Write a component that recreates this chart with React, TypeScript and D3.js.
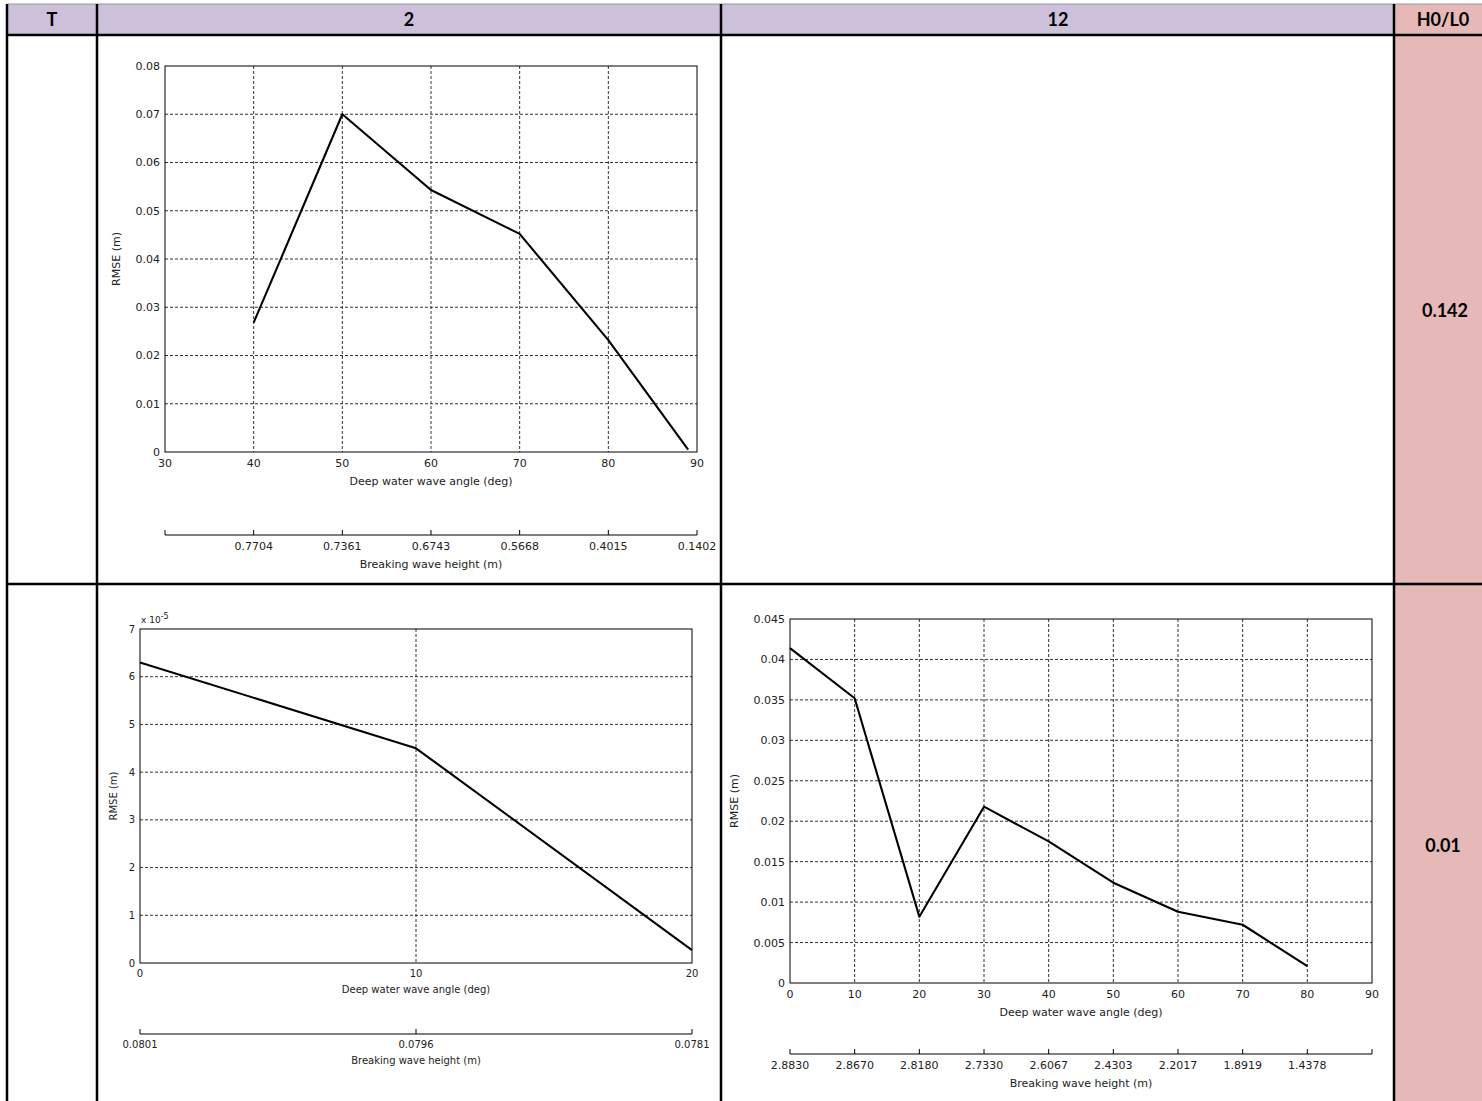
import React from "react";
import * as d3 from "d3";

// table texts
const headerLabels = ["T", "2", "12", "H0/L0"];
const steepnessLabels = ["0.142", "0.01"];

// H0/L0 = 0.142, T = 2
const anglesA = [40, 50, 60, 70, 80, 89];
const rmseA = [0.0268, 0.07, 0.0543, 0.0452, 0.0232, 0.0005];
const angleTicksA = [30, 40, 50, 60, 70, 80, 90];
const rmseTicksA = [0, 0.01, 0.02, 0.03, 0.04, 0.05, 0.06, 0.07, 0.08];
const heightLabelsA = ["", "0.7704", "0.7361", "0.6743", "0.5668", "0.4015", "0.1402"];

// H0/L0 = 0.01, T = 2  (rmse in units of 1e-5 m)
const anglesB = [0, 10, 20];
const rmseB = [6.3, 4.5, 0.27];
const angleTicksB = [0, 10, 20];
const rmseTicksB = [0, 1, 2, 3, 4, 5, 6, 7];
const heightLabelsB = ["0.0801", "0.0796", "0.0781"];

// H0/L0 = 0.01, T = 12
const anglesC = [0, 10, 20, 30, 40, 50, 60, 70, 80];
const rmseC = [0.0414, 0.0352, 0.0082, 0.0218, 0.0175, 0.0124, 0.0088, 0.0072, 0.0021];
const angleTicksC = [0, 10, 20, 30, 40, 50, 60, 70, 80, 90];
const rmseTicksC = [0, 0.005, 0.01, 0.015, 0.02, 0.025, 0.03, 0.035, 0.04, 0.045];
const heightLabelsC = ["2.8830", "2.8670", "2.8180", "2.7330", "2.6067", "2.4303", "2.2017", "1.8919", "1.4378", ""];

const lavender = "#CCC0DA";
const pink = "#E6B8B7";
const font = "DejaVu Sans, sans-serif";

type PlotProps = {
  x0: number; y0: number; w: number; h: number;
  xTicks: number[]; yTicks: number[];
  xs: number[]; ys: number[];
  heights: string[];
  fs: number; yLabelGap: number; secondGap: number;
  exponent?: boolean;
};

function RmsePlot(p: PlotProps) {
  const x = d3.scaleLinear().domain(d3.extent(p.xTicks) as [number, number]).range([p.x0, p.x0 + p.w]);
  const y = d3.scaleLinear().domain(d3.extent(p.yTicks) as [number, number]).range([p.y0 + p.h, p.y0]);
  const line = d3.line<number>().x((d, i) => x(p.xs[i])).y(d => y(d));
  const bottom = p.y0 + p.h;
  const axisY = bottom + p.secondGap;
  const grid = { stroke: "#333", strokeWidth: 1, strokeDasharray: "3 2" };
  const inner = (t: number[]) => t.slice(1, -1);
  return (
    <g fontFamily={font} fontSize={p.fs} fill="#222">
      {inner(p.xTicks).map(t => (
        <line key={"gx" + t} x1={x(t)} x2={x(t)} y1={p.y0} y2={bottom} {...grid} />
      ))}
      {inner(p.yTicks).map(t => (
        <line key={"gy" + t} x1={p.x0} x2={p.x0 + p.w} y1={y(t)} y2={y(t)} {...grid} />
      ))}
      <rect x={p.x0} y={p.y0} width={p.w} height={p.h} fill="none" stroke="#000" strokeWidth={1} />
      <path d={line(p.ys) || ""} fill="none" stroke="#000" strokeWidth={2.1} strokeLinejoin="round" />
      {p.yTicks.map(t => (
        <text key={"ly" + t} x={p.x0 - 5} y={y(t) + p.fs * 0.36} textAnchor="end">{String(t)}</text>
      ))}
      {p.xTicks.map(t => (
        <text key={"lx" + t} x={x(t)} y={bottom + p.fs * 1.4} textAnchor="middle">{String(t)}</text>
      ))}
      <text x={p.x0 + p.w / 2} y={bottom + p.fs * 3} textAnchor="middle">Deep water wave angle (deg)</text>
      <text transform={`translate(${p.x0 - p.yLabelGap},${p.y0 + p.h / 2}) rotate(-90)`} textAnchor="middle">RMSE (m)</text>
      {p.exponent && (
        <text x={p.x0 + 1} y={p.y0 - 6} fontSize={p.fs - 1}>
          x 10<tspan dy={-4} fontSize={p.fs - 2}>-5</tspan>
        </text>
      )}
      <line x1={p.x0} x2={p.x0 + p.w} y1={axisY} y2={axisY} stroke="#000" strokeWidth={1} />
      {p.xTicks.map((t, i) => (
        <g key={"s" + t}>
          <line x1={x(t)} x2={x(t)} y1={axisY - 5} y2={axisY} stroke="#000" strokeWidth={1} />
          <text x={x(t)} y={axisY + p.fs * 1.4} textAnchor="middle">{p.heights[i]}</text>
        </g>
      ))}
      <text x={p.x0 + p.w / 2} y={axisY + p.fs * 3} textAnchor="middle">Breaking wave height (m)</text>
    </g>
  );
}

export default function App() {
  const W = 1482, H = 1101;
  const cols = [7, 97, 721, 1394];
  const rows = [35, 584];
  const headCenters = [52, 409, 1058, 1443];
  const border = { stroke: "#000", strokeWidth: 2.5 };
  return (
    <svg width={W} height={H} style={{ position: "absolute", left: 0, top: 0, background: "#fff" }}>
      <rect x={0} y={0} width={W} height={H} fill="#fff" />
      <rect x={cols[0]} y={4} width={cols[3] - cols[0]} height={rows[0] - 4} fill={lavender} />
      <rect x={cols[3]} y={4} width={W - cols[3]} height={H - 4} fill={pink} />
      <line x1={cols[0]} x2={W} y1={4} y2={4} stroke="#999" strokeWidth={1} />
      {cols.map(c => <line key={"c" + c} x1={c} x2={c} y1={4} y2={H} {...border} />)}
      {rows.map(r => <line key={"r" + r} x1={cols[0]} x2={W} y1={r} y2={r} {...border} />)}
      <g fontFamily="Lato, 'Open Sans', sans-serif" fontWeight={700} fontSize={18} fill="#000" textAnchor="middle">
        {headerLabels.map((l, i) => <text key={l} x={headCenters[i]} y={26}>{l}</text>)}
        <text x={1445} y={317}>{steepnessLabels[0]}</text>
        <text x={1443} y={852}>{steepnessLabels[1]}</text>
      </g>

      <RmsePlot x0={165} y0={66} w={532} h={386} xTicks={angleTicksA} yTicks={rmseTicksA}
        xs={anglesA} ys={rmseA} heights={heightLabelsA} fs={11} yLabelGap={45} secondGap={83} />
      <RmsePlot x0={140} y0={629} w={552} h={334} xTicks={angleTicksB} yTicks={rmseTicksB}
        xs={anglesB} ys={rmseB} heights={heightLabelsB} fs={10} yLabelGap={23} secondGap={71} exponent />
      <RmsePlot x0={790} y0={619} w={582} h={364} xTicks={angleTicksC} yTicks={rmseTicksC}
        xs={anglesC} ys={rmseC} heights={heightLabelsC} fs={11} yLabelGap={52} secondGap={71} />
    </svg>
  );
}
